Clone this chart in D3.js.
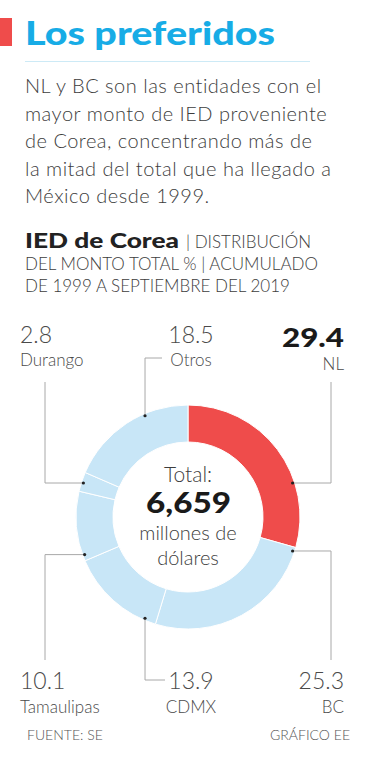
<!DOCTYPE html>
<html>
<head>
<meta charset="utf-8">
<script src="https://cdn.jsdelivr.net/npm/d3@7"></script>
<style>
  html, body { margin: 0; padding: 0; background: #fff; }
  svg { display: block; font-family: Lato, "Open Sans", sans-serif; }
</style>
</head>
<body>
<div id="chart"></div>
<script>
// data
const categories = ["NL", "BC", "CDMX", "Tamaulipas", "Durango", "Otros"];
const shares = [29.4, 25.3, 13.9, 10.1, 2.8, 18.5];
const totalMillions = 6659;
const titleText = "Los preferidos";
const introLines = [
  "NL y BC son las entidades con el",
  "mayor monto de IED proveniente",
  "de Corea, concentrando más de",
  "la mitad del total que ha llegado a",
  "México desde 1999."
];
const subtitleBold = "IED de Corea";
const subtitleLines = ["| DISTRIBUCIÓN", "DEL MONTO TOTAL % | ACUMULADO", "DE 1999 A SEPTIEMBRE DEL 2019"];
const sourceText = "FUENTE: SE";
const creditText = "GRÁFICO EE";

const data = categories.map((c, i) => ({ name: c, value: shares[i] }));

const W = 376, H = 768;
const svg = d3.select("#chart").append("svg")
  .attr("width", W).attr("height", H);

const RED = "#ef4c4b", BLUE = "#c8e6f7", TITLE = "#17ace6";
const TXT = "#3d3d3d";

// 1) header
svg.append("rect").attr("x", 0).attr("y", 18).attr("width", 12).attr("height", 28).attr("fill", RED);
svg.append("text").attr("x", 25).attr("y", 45)
  .attr("fill", TITLE).style("font-size", "32px").style("font-weight", 900)
  .attr("textLength", 250).attr("lengthAdjust", "spacingAndGlyphs")
  .text(titleText);
svg.append("line").attr("x1", 25).attr("x2", 310).attr("y1", 61.5).attr("y2", 61.5)
  .attr("stroke", "#cdeaf6").attr("stroke-width", 1);

svg.append("g").selectAll("text").data(introLines).join("text")
  .attr("x", 25).attr("y", (d, i) => 93 + i * 27.5)
  .attr("fill", TXT).style("font-size", "20px").style("font-weight", 300)
  .style("letter-spacing", "0.5px")
  .text(d => d);

// 2) subtitle
svg.append("text").attr("x", 25).attr("y", 248)
  .attr("fill", "#222").style("font-size", "20px").style("font-weight", 900)
  .attr("textLength", 154).attr("lengthAdjust", "spacingAndGlyphs")
  .text(subtitleBold);
svg.append("text").attr("x", 186).attr("y", 248)
  .attr("fill", TXT).style("font-size", "17px").style("font-weight", 300)
  .text(subtitleLines[0]);
svg.append("g").selectAll("text").data(subtitleLines.slice(1)).join("text")
  .attr("x", 25).attr("y", (d, i) => 270 + i * 22)
  .attr("fill", TXT).style("font-size", "17px").style("font-weight", 300)
  .text(d => d);

// 3) donut
const cx = 188, cy = 517, R = 112, r = 75;
const g = svg.append("g").attr("transform", `translate(${cx},${cy})`);
const pie = d3.pie().value(d => d.value).sort(null);
const arc = d3.arc().innerRadius(r).outerRadius(R);
const arcs = pie(data);

g.selectAll("path").data(arcs).join("path")
  .attr("d", arc)
  .attr("fill", d => d.data.name === "NL" ? RED : BLUE)
  .attr("stroke", "#fff").attr("stroke-width", 1);

// centre text
g.append("text").attr("text-anchor", "middle").attr("y", -35)
  .attr("fill", TXT).style("font-size", "21px").style("font-weight", 300).text("Total:");
g.append("text").attr("x", -42).attr("y", -4)
  .attr("fill", "#1a1a1a").style("font-size", "29px").style("font-weight", 900)
  .attr("textLength", 85).attr("lengthAdjust", "spacingAndGlyphs")
  .text(d3.format(",")(totalMillions));
g.append("text").attr("text-anchor", "middle").attr("y", 23)
  .attr("fill", TXT).style("font-size", "20px").style("font-weight", 300).text("millones de");
g.append("text").attr("text-anchor", "middle").attr("y", 48)
  .attr("fill", TXT).style("font-size", "20px").style("font-weight", 300).text("dólares");

// 4) callouts: dot angle on the ring, leader shape, label slot
const colL = 45 - cx, colR = 331 - cx, topY = 382 - cy, botY = 660 - cy;
const callout = {
  NL:         { deg: 72,  path: p => [[colR, p[1]], [colR, topY]], lx: 344, anchor: "end",    ny: 347, cy: 370, bold: true },
  BC:         { deg: 108, path: p => [[colR, p[1]], [colR, botY]], lx: 344, anchor: "end",    ny: 689, cy: 713 },
  CDMX:       { deg: 203, path: p => [[p[0], 680 - cy], [165 - cx, 680 - cy]], lx: 191, anchor: "middle", ny: 689, cy: 713 },
  Tamaulipas: { deg: 250, path: p => [[colL, p[1]], [colL, botY]], lx: 20,  anchor: "start",  ny: 689, cy: 713 },
  Durango:    { deg: 288, path: p => [[colL, p[1]], [colL, topY]], lx: 20,  anchor: "start",  ny: 343, cy: 366 },
  Otros:      { deg: 337, path: p => [[p[0], 358 - cy], [162 - cx, 358 - cy]], lx: 191, anchor: "middle", ny: 343, cy: 366 }
};

const lab = g.append("g");
data.forEach(d => {
  const c = callout[d.name];
  const a = c.deg * Math.PI / 180;
  const p = [Math.sin(a) * (R - 2), -Math.cos(a) * (R - 2)];
  lab.append("path")
    .attr("d", d3.line()([p, ...c.path(p)]))
    .attr("fill", "none").attr("stroke", "#a8a8a8").attr("stroke-width", 1);
  lab.append("circle").attr("cx", p[0]).attr("cy", p[1]).attr("r", 1.6).attr("fill", "#222");

  const num = svg.append("text").attr("x", c.bold ? 282 : c.lx).attr("y", c.ny)
    .attr("text-anchor", c.bold ? "start" : c.anchor)
    .attr("fill", c.bold ? "#1a1a1a" : "#4a4a4a")
    .style("font-size", c.bold ? "27px" : "23px").style("font-weight", c.bold ? 900 : 300)
    .text(d.value.toFixed(1));
  if (c.bold) num.attr("textLength", 62).attr("lengthAdjust", "spacingAndGlyphs");
  svg.append("text").attr("x", c.lx).attr("y", c.cy).attr("text-anchor", c.anchor)
    .attr("fill", "#4a4a4a").style("font-size", "17px").style("font-weight", 300)
    .text(d.name);
});

// 5) footer
svg.append("text").attr("x", 27).attr("y", 740).attr("fill", "#555")
  .style("font-size", "14px").style("font-weight", 300).text(sourceText);
svg.append("text").attr("x", 350).attr("y", 740).attr("text-anchor", "end").attr("fill", "#555")
  .style("font-size", "14px").style("font-weight", 300).text(creditText);
</script>
</body>
</html>
